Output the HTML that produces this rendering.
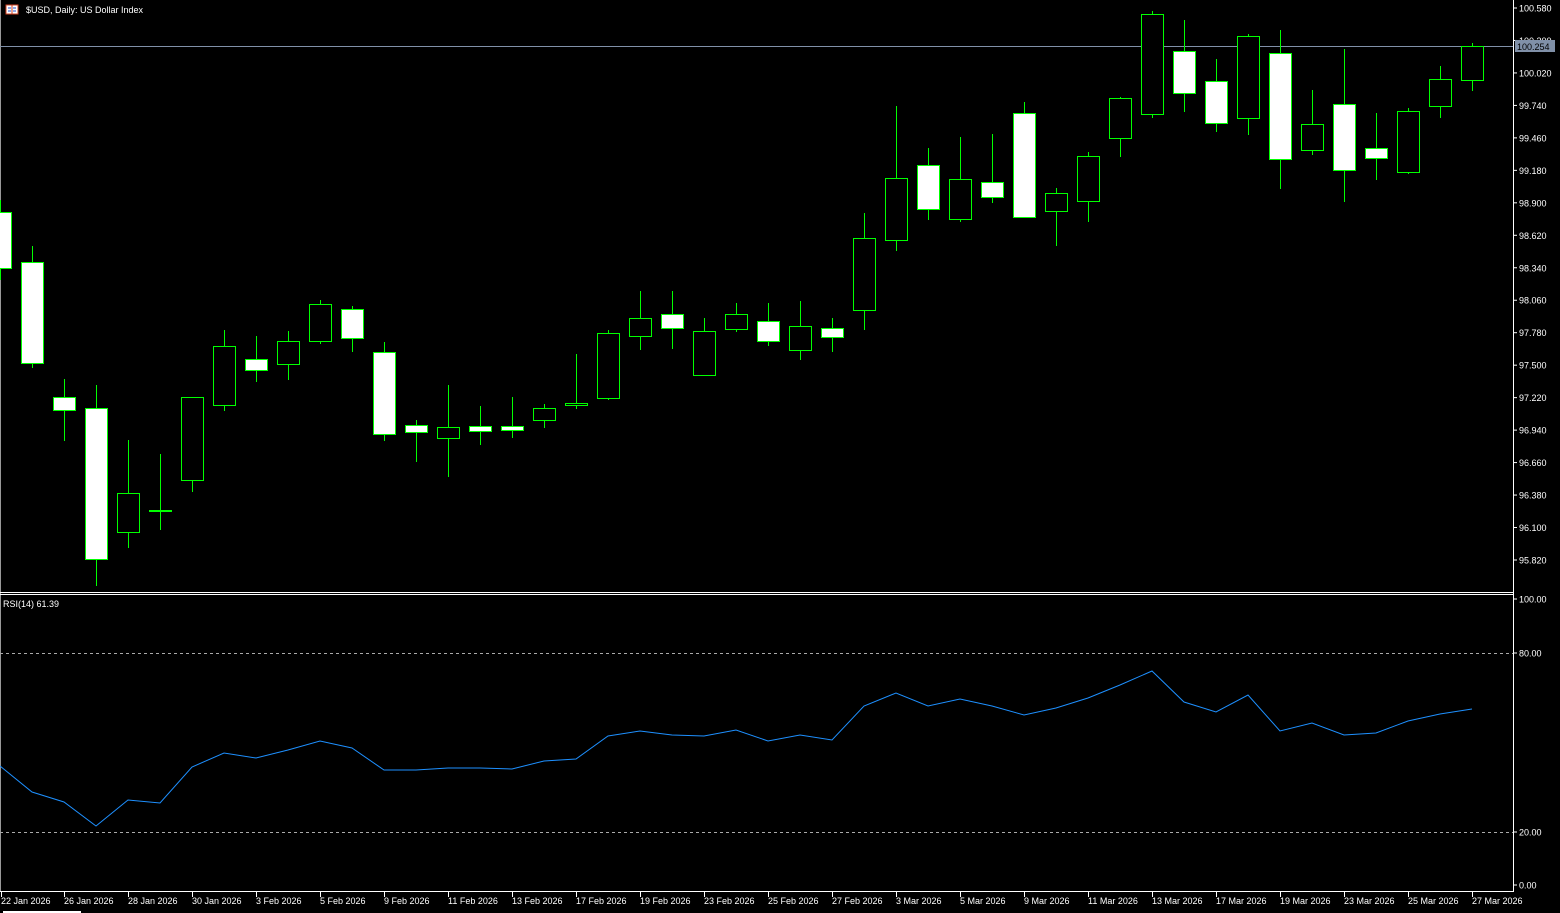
<!DOCTYPE html>
<html><head><meta charset="utf-8"><style>
html,body{margin:0;padding:0;background:#000;overflow:hidden}
svg{display:block}
text{font-family:"Liberation Sans",sans-serif;font-size:9px;fill:#fff}
</style></head><body>
<svg id="s" width="1560" height="913" xmlns="http://www.w3.org/2000/svg"></svg>
<script>
const C=[
[212,268,200,280,1],[262,363,246,368,1],[397,410,379,441,1],[408,559,385,586,1],[493,532,440,548,0],[510,511,454,530,0],
[397,480,397,492,0],[346,405,330,411,0],[359,370,336,382,1],[341,364,331,380,0],[304,341,300,344,0],[309,338,306,352,1],
[352,434,342,441,1],[425,432,420,462,1],[427,438,385,477,0],[426,431,406,445,1],[426,430,397,438,1],[408,420,404,428,0],
[403,405,354,409,0],[333,398,330,400,0],[318,336,291,350,0],[314,328,291,349,1],[331,375,318,376,0],[314,329,303,332,0],
[321,341,303,346,1],[326,350,301,360,0],[328,337,318,352,1],[238,310,213,330,0],[178,240,106,251,0],[165,209,148,220,1],
[179,219,137,222,0],[182,197,134,203,1],[113,217,102,218,1],[193,211,188,246,0],[156,201,152,222,0],[98,138,97,157,0],
[14,114,11,118,0],[51,93,20,112,1],[81,123,59,132,1],[36,118,34,135,0],[53,159,30,189,1],[124,150,90,155,0],
[104,170,49,202,1],[148,158,113,180,1],[111,172,108,174,0],[79,106,66,118,0],[46,80,43,91,0]];
const R=[766,792,802,826,800,803,767,753,758,750,741,748,770,770,768,768,769,761,759,736,731,735,736,730,741,735,740,706,693,706,699,706,715,708,698,685,671,702,712,695,731,723,735,733,721,714,709];
let h='';
h+='<line x1="0" y1="592.5" x2="1513" y2="592.5" stroke="#fff"/><line x1="0" y1="594.5" x2="1513" y2="594.5" stroke="#fff"/>';
h+='<line x1="1513.5" y1="0" x2="1513.5" y2="891" stroke="#fff"/><line x1="0" y1="891.5" x2="1514" y2="891.5" stroke="#fff"/>';
h+='<line x1="0.5" y1="0" x2="0.5" y2="891" stroke="#fff" stroke-opacity="0.6"/>';
h+='<line x1="0" y1="653.5" x2="1513" y2="653.5" stroke="#aaa" stroke-dasharray="3,3"/><line x1="0" y1="832.5" x2="1513" y2="832.5" stroke="#aaa" stroke-dasharray="3,3"/>';
for(let i=0;i<18;i++){const y=8+i*32.47;const v=(100.58-i*0.28).toFixed(3);
 h+=`<line x1="1513" y1="${y}" x2="1517" y2="${y}" stroke="#fff"/><text x="1519" y="${y+3.5}">${v}</text>`;}
[[599,'100.00'],[653,'80.00'],[832,'20.00'],[885,'0.00']].forEach(([y,t])=>{h+=`<line x1="1513" y1="${y}" x2="1517" y2="${y}" stroke="#fff"/><text x="1519" y="${y+3.5}">${t}</text>`;});
h+='<line x1="0" y1="46.5" x2="1513" y2="46.5" stroke="#8090a8"/>';
C.forEach((c,i)=>{const x=32*i;const [bt,bb,wt,wb,f]=c;
 h+=`<line x1="${x+0.5}" y1="${wt}" x2="${x+0.5}" y2="${wb}" stroke="#00ff00"/>`;
 h+=`<rect x="${x-10.5}" y="${bt+0.5}" width="22" height="${Math.max(bb-bt,1)}" fill="${f?'#fff':'#000'}" stroke="#00ff00"/>`;});
h+='<rect x="1515" y="40" width="40" height="12" fill="#8090a8"/><text x="1517" y="50" style="fill:#000">100.254</text>';
h+='<polyline fill="none" stroke="#1e90ff" stroke-width="1" points="'+R.map((y,i)=>(32*i)+','+y).join(' ')+'"/>';
const D=['22 Jan 2026','26 Jan 2026','28 Jan 2026','30 Jan 2026','3 Feb 2026','5 Feb 2026','9 Feb 2026','11 Feb 2026','13 Feb 2026','17 Feb 2026','19 Feb 2026','23 Feb 2026','25 Feb 2026','27 Feb 2026','3 Mar 2026','5 Mar 2026','9 Mar 2026','11 Mar 2026','13 Mar 2026','17 Mar 2026','19 Mar 2026','23 Mar 2026','25 Mar 2026','27 Mar 2026'];
D.forEach((d,i)=>{const x=i==0?1:64*i;h+=`<line x1="${x+0.5}" y1="891" x2="${x+0.5}" y2="897" stroke="#fff"/><text x="${x}" y="904">${d}</text>`;});
h+='<rect x="3" y="911" width="78" height="2" fill="#fff"/>';
h+='<rect x="6" y="5" width="12" height="9" fill="#fff" stroke="#d04020"/><line x1="8" y1="8" x2="11" y2="8" stroke="#2050d0"/><line x1="13" y1="8" x2="16" y2="8" stroke="#2050d0"/><line x1="8" y1="11" x2="11" y2="11" stroke="#2050d0"/><line x1="13" y1="11" x2="16" y2="11" stroke="#2050d0"/><line x1="12" y1="5" x2="12" y2="14" stroke="#d04020"/>';
h+='<text x="26" y="13">$USD, Daily:  US Dollar Index</text>';
h+='<text x="3" y="607">RSI(14) 61.39</text>';
document.getElementById('s').innerHTML=h;
</script>
</body></html>
